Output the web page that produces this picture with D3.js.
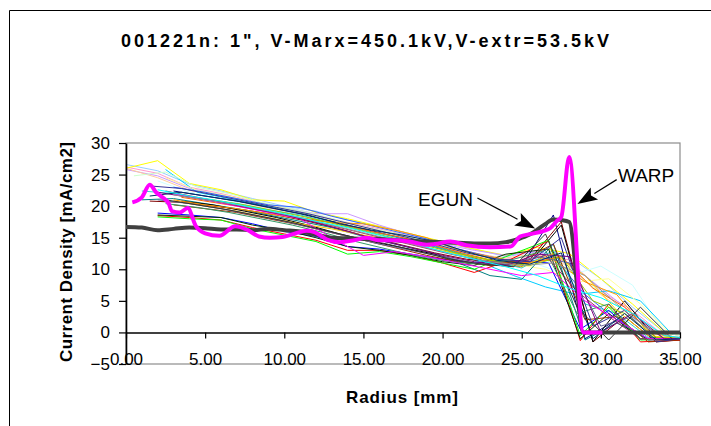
<!DOCTYPE html>
<html><head><meta charset="utf-8">
<script src="https://cdn.jsdelivr.net/npm/d3@7"></script>
<style>
body{margin:0;background:#fff}
svg{display:block}
text{font-family:"Liberation Sans",Arial,sans-serif;fill:#000}
</style>
</head><body>
<svg id="chart" width="711" height="426"></svg>
<script>
// ---------- data ----------
const chartTitle = "001221n: 1\", V-Marx=450.1kV,V-extr=53.5kV";
const xTitle = "Radius [mm]";
const yTitle = "Current Density [mA/cm2]";
const xTicks = [0, 5, 10, 15, 20, 25, 30, 35];
const yTicks = [-5, 0, 5, 10, 15, 20, 25, 30];

// radius grids of the measured profiles (mm)
const gridA = [0,2,4,6,8,10,12,14,16,18,20,22,24,26,28,30,32,34,35];
const gridB = [0.5,2.5,4.5,6.5,8.5,10.5,12.5,14.5,16.5,18.5,20.5,22.5,24.5,26.5,28.5,30.5,32.5,34.5];
const gridC = [1,3,5,7,9,11,13,15,17,19,21,23,25,27,29,31,33,35];
const gridD = [1.5,3.5,5.5,7.5,9.5,11.5,13.5,15.5,17.5,19.5,21.5,23.5,25.5,27.5,29.5,31.5,33.5,35];
const gridE = [2,4,6,8,10,12,14,16,18,20,22,24,26.7,28.7,30.5,32.5,35];

// measured current density profiles (mA/cm2)
const s01 = [26.6,25.6,23.5,22.4,21.2,20.0,19.2,17.8,16.8,15.6,14.2,13.2,12.0,12.8,12.0,8.5,4.0,0.0,-0.5];
const s02 = [26.2,25.2,23.0,22.0,20.8,19.6,18.6,17.4,16.4,15.2,13.8,12.6,11.6,12.2,11.5,6.5,3.5,-0.5,-0.8];
const s03 = [26.0,27.2,23.6,22.6,21.0,20.8,19.0,18.0,16.8,15.6,14.4,13.2,12.2,13.5,12.5,8.5,4.5,0.0,-0.5];
const s04 = [25.8,24.8,22.8,21.8,20.6,19.8,18.8,18.8,17.0,15.5,14.0,13.0,12.2,12.8,11.0,7.0,3.0,-0.5,-0.8];
const s05 = [26.0,24.5,22.5,21.5,20.2,19.2,18.2,17.0,16.0,15.0,13.6,12.4,11.8,12.5,10.5,6.0,2.5,-0.5,-0.8];
const s06 = [null,24.0,22.2,21.2,20.0,19.0,18.0,17.0,15.8,14.8,13.5,12.5,11.0,10.8,9.0,10.5,7.5,0.0,-0.5];
const s07 = [null,25.8,22.2,21.2,20.2,19.4,18.0,16.6,15.4,14.2,12.8,11.0,9.0,7.2,6.0,6.6,5.0,-0.3];
const s08 = [24.8,25.4,23.0,22.0,20.6,19.6,18.4,17.0,16.0,14.8,13.4,12.2,11.2,11.5,9.0,5.5,1.5,-0.8];
const s09 = [null,24.5,22.5,21.6,20.4,19.4,18.0,17.0,15.8,14.6,13.2,12.0,10.8,10.0,8.0,8.5,4.5,-0.5];
const s10 = [null,22.4,21.6,20.8,19.8,18.8,17.6,16.4,15.2,14.0,12.6,11.0,10.4,18.6,-1.0,2.0,-1.2,-1.0];
const s11 = [null,23.0,22.2,21.2,20.2,19.8,18.4,17.2,16.0,14.8,13.2,12.0,11.0,12.0,6.0,2.0,-1.0,-1.0];
const s12 = [22.4,22.0,21.0,20.4,19.4,18.6,17.4,16.2,15.2,14.0,12.6,11.4,10.2,13.0,4.5,3.0,-0.8,-1.0];
const s13 = [20.8,20.6,20.0,19.4,18.6,17.6,16.4,15.0,13.8,12.6,11.6,11.0,11.5,17.5,-1.5,2.5,-1.5,-1.2];
const s14 = [21.0,21.2,20.4,19.6,18.6,17.6,16.6,15.2,14.0,12.8,11.0,9.0,8.4,14.0,-1.2,1.5,-1.0,-1.0];
const s15 = [null,20.8,20.2,19.2,18.2,17.0,15.6,14.4,13.4,12.4,11.0,10.6,11.0,17.0,-1.5,5.0,-1.0,-0.8];
const s16 = [18.9,18.6,18.2,17.2,16.0,15.2,13.6,13.2,12.4,11.6,11.0,11.5,11.0,0.5,3.5,-1.0,-1.0];
const s17 = [18.5,18.2,17.8,16.6,15.6,14.6,13.0,13.0,12.2,11.0,9.5,11.2,14.5,-1.3,4.5,-1.5,-1.2];
const s18 = [18.3,18.0,17.8,16.4,15.4,14.4,12.4,12.8,12.0,11.0,10.0,12.0,14.6,-0.5,4.0,-1.2,-1.0];
const s19 = [18.6,18.4,18.2,17.0,16.2,15.0,13.6,13.0,12.2,11.2,10.6,12.4,13.2,-1.0,3.0,-1.0,-0.8];
const s20 = [null,21.0,20.2,19.6,18.8,18.0,17.4,17.2,16.2,15.0,13.0,12.0,11.0,11.5,8.0,6.0,0.0,-1.0];
const s21 = [null,21.4,20.6,19.8,18.8,18.0,17.2,16.0,15.0,13.8,12.4,11.2,11.0,12.0,7.0,4.0,-0.8,-1.0];
const s22 = [null,20.8,20.0,19.2,18.2,17.2,16.4,15.4,14.6,13.4,12.4,11.4,10.4,12.5,9.0,3.5,-0.5,-1.0];
const s23 = [null,21.6,21.0,20.2,19.2,18.2,17.0,15.8,14.6,13.4,12.2,11.2,10.6,12.0,5.0,3.0,-0.8,-1.0];
const s24 = [null,20.2,19.6,19.0,18.0,17.0,15.8,14.6,13.4,12.2,11.2,10.6,11.4,14.0,2.0,2.5,-1.5,-1.2];
const s25 = [null,20.4,19.8,19.0,18.0,17.0,15.8,14.4,13.2,12.0,11.2,10.8,11.6,13.0,3.0,4.5,-1.0,-1.0];
const s26 = [null,21.0,20.4,19.6,18.6,17.6,16.4,15.2,14.0,13.0,12.0,11.0,10.8,12.0,11.0,1.0,2.5,-1.0,-1.0];
const s27 = [null,22.4,21.4,20.4,19.4,18.4,17.2,16.0,14.8,13.6,12.4,11.4,10.8,12.2,6.5,2.5,-1.0,-1.0];
const s28 = [23.2,22.8,21.8,20.8,19.8,18.8,17.6,16.4,15.2,14.0,12.6,11.6,11.2,15.0,1.0,3.5,-1.5,-1.0];
const s29 = [null,22.0,21.0,20.0,19.0,18.0,15.0,12.2,12.8,12.0,11.0,10.0,9.0,9.5,5.0,2.0,-1.0,-1.0];
const s30 = [null,22.2,21.4,20.6,19.6,18.6,17.4,16.0,14.6,13.4,12.2,11.2,10.6,12.4,12.0,0.0,3.0,-1.0,-1.0];
const s31 = [null,21.0,20.2,19.4,18.4,17.4,16.2,15.0,14.0,12.8,11.6,10.8,10.4,15.6,4.0,-1.2,4.0,-1.0];
const s32 = [null,21.8,21.0,20.2,19.2,18.2,17.0,15.8,14.6,13.4,12.2,11.2,10.6,11.0,9.0,4.5,0.5,-1.0];
const s33 = [21.6,22.2,21.4,20.6,19.6,18.6,17.2,16.2,15.4,14.4,12.8,11.4,10.8,12.6,-1.0,3.0,-1.2,-1.0];
const s34 = [null,22.6,21.6,20.8,19.8,18.8,17.6,16.6,15.4,14.2,12.8,11.6,10.4,9.0,7.0,5.5,3.0,-0.5,-0.8];

// simulations
const egunX = [0,1,2,3,4,5,6,7,8,9,10,11,12,13,14,15,16,17,18,19,20,21,22,23,24,24.8,25.5,26,26.5,27,27.5,28,28.9,30,35];
const egunY = [16.7,16.6,16.2,16.4,16.6,16.5,16.3,16.3,16.2,16.4,16.2,16.0,15.5,15.0,14.9,14.8,14.8,14.6,14.5,14.4,14.3,14.2,14.1,14.1,14.3,14.8,15.5,16.3,17.2,17.9,17.8,17.5,0,0,0];
const warpX = [0.4,1.0,1.5,1.9,2.3,2.7,2.9,3.4,3.9,4.4,5.0,5.9,6.9,7.7,8.4,9.1,9.9,10.6,11.4,11.9,12.7,13.5,14.4,15.2,16.0,16.9,17.9,19.0,19.5,20.5,21.5,23.0,24.3,24.9,25.6,26.4,26.8,27.2,27.5,28.0,28.9,29.5,30.1];
const warpY = [20.6,21.4,23.4,22.2,21.4,20.4,19.2,19.0,19.7,16.9,15.7,15.3,16.8,16.2,15.2,15.0,15.1,15.6,16.1,15.9,14.7,14.3,14.6,15.0,14.6,14.6,14.4,13.9,14.0,14.4,13.8,13.5,13.6,15.2,15.6,16.1,16.5,17.6,18.3,27.8,0,0,0];

// series table: [values, grid, colour]
const thinSeries = [
  [s01, gridA, "#99CCFF"], [s02, gridA, "#FF99CC"], [s03, gridA, "#FFFF00"], [s04, gridA, "#CC99FF"],
  [s05, gridA, "#FFCC99"], [s06, gridA, "#CCFFFF"], [s07, gridB, "#00CCFF"], [s08, gridB, "#CCFFCC"],
  [s09, gridB, "#FFFF99"], [s10, gridC, "#000080"], [s11, gridC, "#3366FF"], [s12, gridC, "#33CCCC"],
  [s13, gridD, "#800000"], [s14, gridC, "#008080"], [s15, gridD, "#000000"], [s16, gridE, "#0000FF"],
  [s17, gridE, "#FF0000"], [s18, gridE, "#00FF00"], [s19, gridE, "#003300"], [s20, gridC, "#FF9900"],
  [s21, gridD, "#FF6600"], [s22, gridC, "#FFCC00"], [s23, gridD, "#99CC00"], [s24, gridC, "#993300"],
  [s25, gridB, "#339966"], [s26, gridA, "#666699"], [s27, gridB, "#993366"], [s28, gridD, "#333399"],
  [s29, gridC, "#FF00FF"], [s30, gridA, "#800080"], [s31, gridB, "#333333"], [s32, gridC, "#969696"],
  [s33, gridD, "#003366"], [s34, gridA, "#00FFFF"]
];

// annotations (data coordinates)
const notes = [
  {label: "EGUN", tx: 18.45, ty: 20.0, from: [22.2, 21.3], to: [25.85, 16.45]},
  {label: "WARP", tx: 31.08, ty: 23.9, from: [31.0, 24.2], to: [28.52, 20.33]}
];

// ---------- drawing ----------
const svg = d3.select("#chart");
const W = 711, H = 426;
const plot = {l: 126, r: 680, t: 143, b: 364};

svg.append("rect").attr("width", W).attr("height", H).attr("fill", "#fff");
// outer chart frame
svg.append("path").attr("d", `M9.5,${H} V10.5 H${W}`).attr("fill", "none").attr("stroke", "#000").attr("stroke-width", 1);

const x = d3.scaleLinear().domain([0, 35]).range([plot.l, plot.r]);
const y = d3.scaleLinear().domain([-5, 30]).range([plot.b, plot.t]);

// plot area border
svg.append("rect").attr("x", plot.l).attr("y", plot.t)
  .attr("width", plot.r - plot.l).attr("height", plot.b - plot.t)
  .attr("fill", "none").attr("stroke", "#8c8c8c").attr("stroke-width", 1.2);

// title
svg.append("text").attr("x", 365).attr("y", 47).attr("text-anchor", "middle")
  .attr("font-size", 18).attr("font-weight", "bold")
  .attr("textLength", 488).attr("lengthAdjust", "spacing").text(chartTitle);

// lines
const line = d3.line().defined(d => d[1] !== null).x(d => x(d[0])).y(d => y(d[1]));
const gLines = svg.append("g");
thinSeries.forEach(([vals, grid, col]) => {
  const pts = grid.map((gx, i) => [gx, vals[i]]);
  gLines.append("path").attr("d", line(pts)).attr("fill", "none")
    .attr("stroke", col).attr("stroke-width", 1).attr("stroke-linejoin", "round");
});

// axes
const xAxis = d3.axisBottom(x).tickValues(xTicks).tickFormat(d3.format(".2f"))
  .tickSize(6).tickSizeOuter(0).tickPadding(15);
const gx = svg.append("g").attr("transform", `translate(0,${y(0)})`).call(xAxis);
gx.select(".domain").attr("stroke", "#000").attr("stroke-width", 1.6);
gx.selectAll(".tick line").attr("stroke", "#000").attr("stroke-width", 1.2);
gx.selectAll("text").attr("font-size", 17).attr("font-family", "Liberation Sans, Arial, sans-serif").attr("fill", "#000");

const yAxis = d3.axisLeft(y).tickValues(yTicks).tickFormat(d3.format("d"))
  .tickSize(7).tickSizeOuter(0).tickPadding(9);
const gy = svg.append("g").attr("transform", `translate(${plot.l},0)`).call(yAxis);
gy.select(".domain").attr("stroke", "#000").attr("stroke-width", 1.6);
gy.selectAll(".tick line").attr("stroke", "#000").attr("stroke-width", 1.2);
gy.selectAll("text").attr("font-size", 17).attr("font-family", "Liberation Sans, Arial, sans-serif").attr("fill", "#000");

// simulations on top
const egun = egunX.map((v, i) => [v, egunY[i]]);
const warp = warpX.map((v, i) => [v, warpY[i]]);
const smooth = d3.line().x(d => x(d[0])).y(d => y(d[1])).curve(d3.curveMonotoneX);
svg.append("path").attr("d", smooth(egun)).attr("fill", "none").attr("stroke", "#404040")
  .attr("stroke-width", 4).attr("stroke-linejoin", "round");
svg.append("path").attr("d", smooth(warp)).attr("fill", "none").attr("stroke", "#FF00FF")
  .attr("stroke-width", 4).attr("stroke-linejoin", "round");

// axis titles
svg.append("text").attr("x", 402).attr("y", 403).attr("text-anchor", "middle")
  .attr("font-size", 17).attr("font-weight", "bold")
  .attr("textLength", 112).attr("lengthAdjust", "spacing").text(xTitle);
svg.append("text").attr("transform", "translate(72,252) rotate(-90)").attr("text-anchor", "middle")
  .attr("font-size", 17).attr("font-weight", "bold")
  .attr("textLength", 220).attr("lengthAdjust", "spacing").text(yTitle);

// annotations with arrows
notes.forEach(n => {
  svg.append("text").attr("x", x(n.tx)).attr("y", y(n.ty)).attr("font-size", 19).text(n.label);
  const x1 = x(n.from[0]), y1 = y(n.from[1]), x2 = x(n.to[0]), y2 = y(n.to[1]);
  const dx = x2 - x1, dy = y2 - y1, len = Math.hypot(dx, dy);
  const ux = dx / len, uy = dy / len, nx = -uy, ny = ux;
  const hl = 20, hw = 7;
  const bx = x2 - ux * hl, by = y2 - uy * hl;
  svg.append("line").attr("x1", x1).attr("y1", y1).attr("x2", bx).attr("y2", by)
    .attr("stroke", "#000").attr("stroke-width", 1.2);
  svg.append("path").attr("d", `M${x2},${y2} L${bx + nx * hw},${by + ny * hw} L${x2 - ux * (hl - 4)},${y2 - uy * (hl - 4)} L${bx - nx * hw},${by - ny * hw} Z`)
    .attr("fill", "#000");
});
</script>
</body></html>
